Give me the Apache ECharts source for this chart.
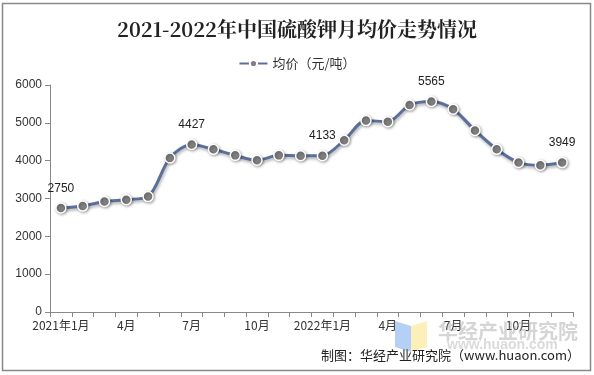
<!DOCTYPE html>
<html>
<head>
<meta charset="utf-8">
<script src="https://cdn.jsdelivr.net/npm/echarts@6/dist/echarts.min.js"></script>
<style>
html,body{margin:0;padding:0;background:#fff;}
#c{width:594px;height:375px;}
</style>
</head>
<body>
<div id="c"></div>
<script>
const categories = ['2021年1月','2月','3月','4月','5月','6月','7月','8月','9月','10月','11月','12月',
  '2022年1月','2月','3月','4月','5月','6月','7月','8月','9月','10月','11月','12月'];
const prices = [2750,2800,2920,2970,3050,4070,4427,4300,4140,4010,4140,4130,
  4133,4540,5060,5030,5470,5565,5360,4800,4300,3950,3880,3949];
const labeledIdx = [0,6,12,17,23];
const yTicks = [0,1000,2000,3000,4000,5000,6000];

const chart = echarts.init(document.getElementById('c'));
const cjk = '"Noto Sans CJK SC", "Liberation Sans", sans-serif';
chart.setOption({
  animation:false,
  title:{
    text:'2021-2022年中国硫酸钾月均价走势情况',
    left:'center', top:14,
    textStyle:{fontFamily:'"Noto Serif CJK SC","Noto Sans CJK SC",serif',fontSize:20,fontWeight:'bold',color:'#222'}
  },
  legend:{
    top:52, left:'center',
    itemWidth:28, itemHeight:9,
    textStyle:{fontFamily:cjk,fontSize:13,color:'#333'},
    data:[{name:'均价（元/吨）'}]
  },
  grid:{left:50,right:21,top:85,bottom:63},
  xAxis:{
    type:'category', data:categories, boundaryGap:true,
    axisLine:{lineStyle:{color:'#888',width:1}},
    axisTick:{show:true,interval:0,length:5,lineStyle:{color:'#888'}},
    axisLabel:{interval:2,fontFamily:cjk,fontSize:12,color:'#333',margin:7}
  },
  yAxis:{
    type:'value', min:yTicks[0], max:yTicks[yTicks.length-1], interval:1000,
    splitLine:{show:false},
    axisLine:{show:true,lineStyle:{color:'#888'}},
    axisTick:{show:true,length:5,lineStyle:{color:'#888'}},
    axisLabel:{fontFamily:'"Liberation Sans",Arial,sans-serif',fontSize:12,color:'#333',margin:8,
      formatter:function(v){return String(v);}}
  },
  series:[{
    name:'均价（元/吨）', type:'line', data:prices.map((v,i)=>({
      value:v,
      label:{show:labeledIdx.indexOf(i)>=0}
    })),
    smooth:0.3,
    symbol:'circle', symbolSize:10,
    itemStyle:{color:'#7f7f7f',borderColor:'#fff',borderWidth:1.5,shadowColor:'rgba(0,0,0,0.35)',shadowBlur:3,shadowOffsetX:1,shadowOffsetY:1},
    lineStyle:{color:'#5b6f9b',width:3,shadowColor:'rgba(0,0,0,0.3)',shadowBlur:3,shadowOffsetX:1,shadowOffsetY:2},
    label:{position:'top',distance:8,fontFamily:'"Liberation Sans",Arial,sans-serif',fontSize:12,color:'#222'}
  }],
  graphic:[
    {type:'rect',shape:{x:2.5,y:3.5,width:588,height:367},style:{fill:'none',stroke:'#888',lineWidth:1.5},z:-1},
    {type:'polygon',shape:{points:[[395,321],[411,326],[411,352],[395,347]]},style:{fill:'rgba(120,170,240,0.55)'},z:50},
    {type:'polygon',shape:{points:[[411,326],[427,321],[427,347],[411,352]]},style:{fill:'rgba(250,225,130,0.55)'},z:50},
    {type:'text',style:{text:'华经产业研究院',x:438,y:331,textVerticalAlign:'middle',font:'bold 20px "Noto Sans CJK SC"',fill:'rgba(150,150,150,0.4)'},z:50},
    {type:'text',style:{text:'www.huaon.com',x:447,y:345,textVerticalAlign:'middle',font:'bold 14px "Liberation Sans"',fill:'rgba(150,150,150,0.35)'},z:50},
    {type:'text',style:{text:'制图：华经产业研究院（www.huaon.com）',x:580,y:355,textAlign:'right',textVerticalAlign:'middle',font:'13px "Noto Sans CJK SC"',fill:'#222'},z:60}
  ]
});
</script>
</body>
</html>
